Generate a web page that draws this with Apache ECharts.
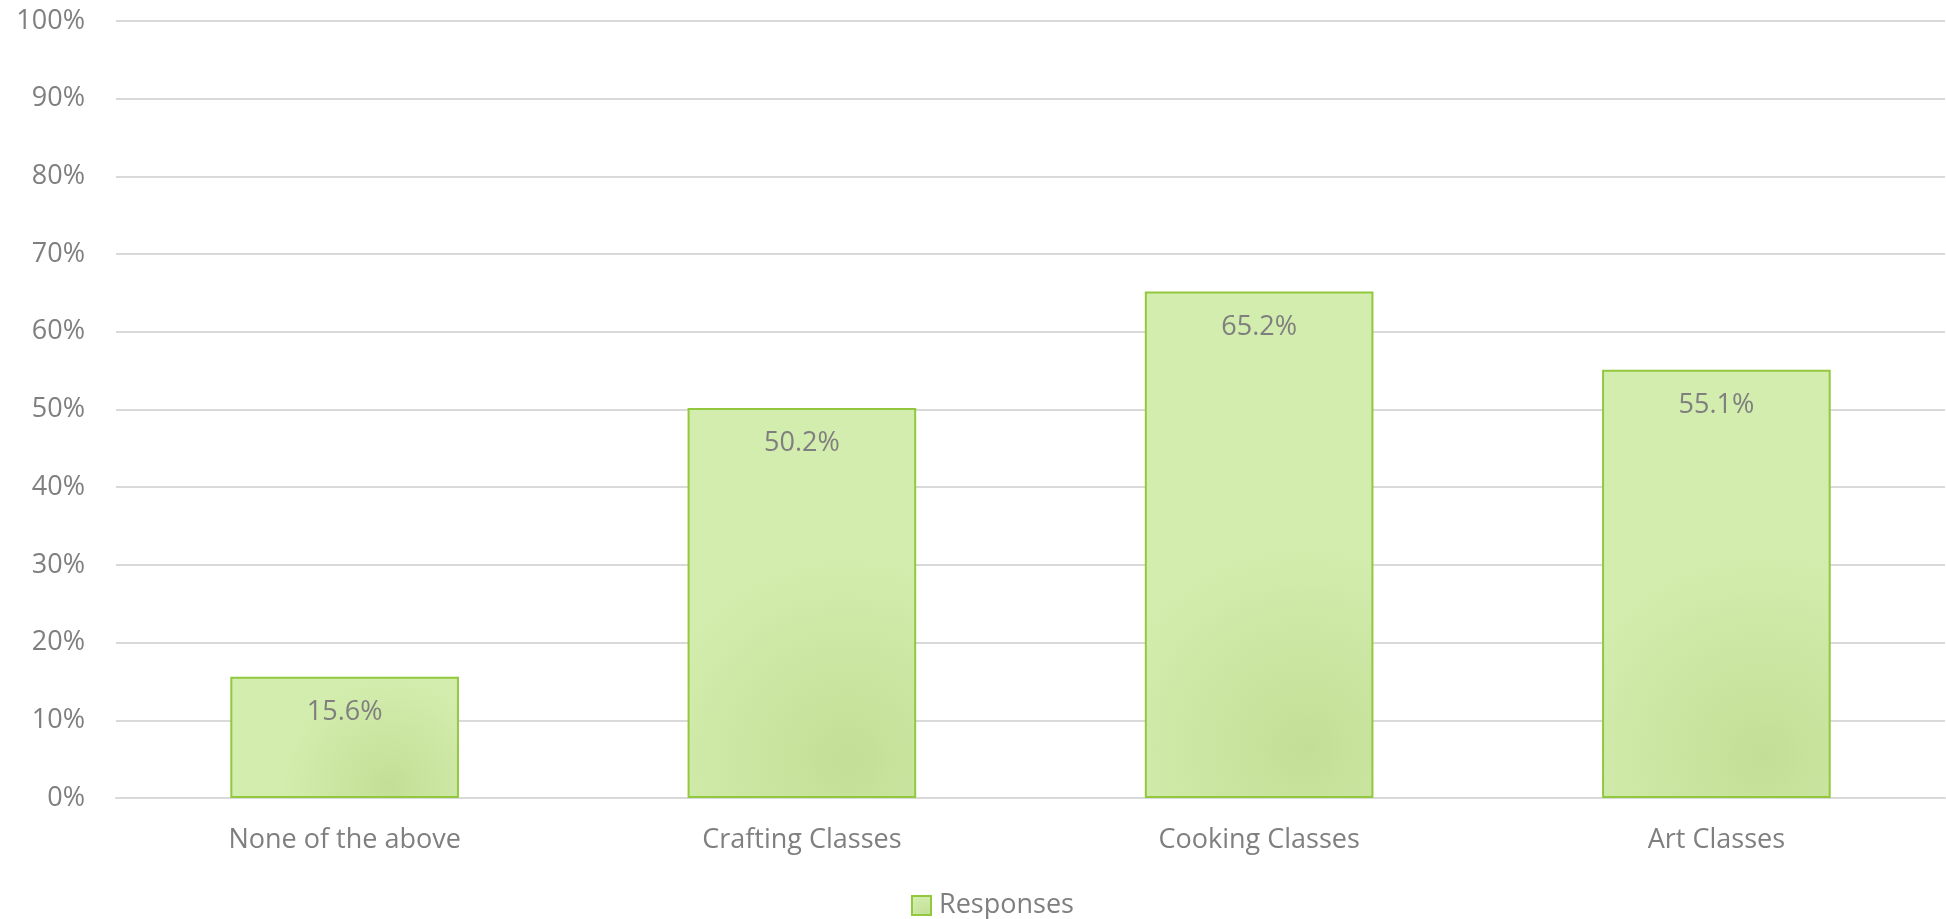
<!DOCTYPE html>
<html>
<head>
<meta charset="utf-8">
<script src="https://cdn.jsdelivr.net/npm/echarts@6/dist/echarts.min.js"></script>
<style>
html,body{margin:0;padding:0;background:#fff;}
#c{width:1946px;height:919px;}
</style>
</head>
<body>
<div id="c"></div>
<script>
var categories = ["None of the above", "Crafting Classes", "Cooking Classes", "Art Classes"];
var responses = [15.6, 50.2, 65.2, 55.1];
var seriesName = "Responses";

var FONT = "'Open Sans'";
var chart = echarts.init(document.getElementById('c'));
chart.setOption({
  animation: false,
  backgroundColor: '#ffffff',
  grid: {left: 116, right: 1, top: 21, bottom: 121, containLabel: false},
  legend: {
    data: [seriesName],
    left: 906, top: 887,
    itemWidth: 19, itemHeight: 19, itemGap: 10,
    icon: 'rect',
    textStyle: {color: '#7f7f7f', fontSize: 27, fontFamily: FONT, padding: [0,0,0,3]}
  },
  xAxis: {
    type: 'category',
    data: categories,
    axisLine: {show: true, lineStyle: {color: '#d9d9d9', width: 2}},
    axisTick: {show: false},
    axisLabel: {color: '#7f7f7f', fontSize: 27, fontFamily: FONT, margin: 29}
  },
  yAxis: {
    type: 'value',
    min: 0, max: 100, interval: 10,
    axisLine: {show: false},
    axisTick: {show: false},
    axisLabel: {color: '#7f7f7f', fontSize: 27, fontFamily: FONT, margin: 31, formatter: '{value}%'},
    splitLine: {lineStyle: {color: '#d9d9d9', width: 2}}
  },
  series: [{
    name: seriesName,
    type: 'bar',
    data: responses,
    barWidth: '50%',
    itemStyle: {
      color: new echarts.graphic.RadialGradient(0.7, 0.9, 0.9, [
        {offset: 0, color: '#c3df96'},
        {offset: 0.5, color: '#cbe6a2'},
        {offset: 1, color: '#d3edae'}
      ]),
      borderColor: '#92c83e',
      borderWidth: 2
    },
    label: {
      show: true,
      position: 'insideTop',
      distance: 22,
      color: '#7f7f7f',
      fontSize: 27,
      fontFamily: FONT,
      formatter: function(p){ return p.value.toFixed(1) + '%'; }
    }
  }]
});
</script>
</body>
</html>
